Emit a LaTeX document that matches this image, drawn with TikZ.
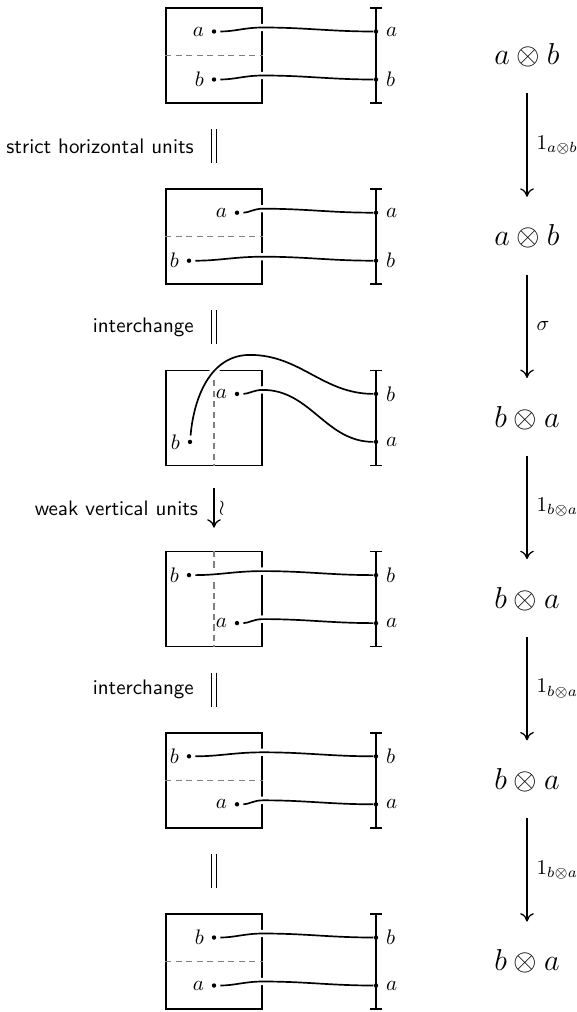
\documentclass[tikz,border=0pt]{standalone}
\usetikzlibrary{arrows.meta,calc}
\tikzset{blk/.style={draw, thick, minimum width=45.7pt, minimum height=45.2pt, inner sep=0pt},
  port/.style={circle, fill, inner sep=0pt, minimum size=2.1pt},
  seam/.style={gray, line width=0.7pt, dash pattern=on 3pt off 2pt},
  wire/.style={thick, shorten <=1.8pt, preaction={draw, white, line width=3.5pt}},
  rail/.style={thick, arrows={Bar[width=5.5pt]-Bar[width=5.5pt]}},
  eqv/.style={double, double distance=1.6pt, line width=0.6pt, shorten <=12pt, shorten >=12pt},
  map/.style={semithick, arrows={-To[length=4pt,width=6.5pt]}},
  obj/.style={font=\fontsize{13.5}{16}\selectfont}}

\begin{document}
\begin{tikzpicture}[x=0.476pt, y=0.476pt]
  \useasboundingbox (0,0) rectangle (577,-1012);
  \foreach \i/\sa/\sz/\ux/\lx/\ut/\lt/\rt/\rb in {1/west/east/0/0/a/b/a/b, 2/west/east/23/-25/a/b/a/b,
      3/north/south/23/-24/a/b/b/a, 4/north/south/-25/23/b/a/b/a, 5/west/east/-25/23/b/a/b/a, 6/west/east/0/0/b/a/b/a}{
    \node[blk] (bx\i) at (214,{-55.5-181.2*(\i-1)}) {};
    \draw[seam] (bx\i.\sa) -- (bx\i.\sz);
    \node[port, label=left:$\ut$] (lu\i) at ($(bx\i)+(\ux,24)$) {};
    \node[port, label=left:$\lt$] (ll\i) at ($(bx\i)+(\lx,-24)$) {};
    \node[port, label distance=1.5pt, label=right:$\rt$] (ru\i) at ($(bx\i)+(162,24)$) {};
    \node[port, label distance=1.5pt, label=right:$\rb$] (rl\i) at ($(bx\i)+(162,-24)$) {};
  }
  \foreach \i/\s/\t in {1/lu/ru, 1/ll/rl, 2/lu/ru, 2/ll/rl, 3/lu/rl, 4/lu/ru, 4/ll/rl, 5/lu/ru, 5/ll/rl, 6/lu/ru, 6/ll/rl}
    \draw[wire] (\s\i) to[out=0,in=180] ($(\s\i -| bx\i.east)+(0,4)$) to[out=0,in=180] (\t\i);
  \draw[wire] (ll3) to[out=85,in=180] ($(bx3)+(36,63)$) to[out=0,in=180] (ru3);
  \foreach \i in {1,...,6}
    \draw[rail] ($(bx\i.north)+(162,0)$) -- ($(bx\i.south)+(162,0)$);

  \draw[eqv] (bx1.south) -- (bx2.north) node[midway, left=6pt, font=\sffamily]{strict horizontal units};
  \draw[eqv] (bx2.south) -- (bx3.north) node[midway, left=6pt, font=\sffamily]{interchange};
  \draw[map, shorten <=10.5pt, shorten >=11pt] (bx3.south) -- (bx4.north)
    node[midway, left=4pt, font=\sffamily]{weak vertical units}
    node[midway, right, inner sep=2pt]{$\wr$};
  \draw[eqv] (bx4.south) -- (bx5.north) node[midway, left=6pt, font=\sffamily]{interchange};
  \draw[eqv] (bx5.south) -- (bx6.north);

  \foreach \i/\txt in {1/a\otimes b, 2/a\otimes b, 3/b\otimes a, 4/b\otimes a, 5/b\otimes a, 6/b\otimes a}
    \node[obj] (t\i) at (527,{-55.5-181.2*(\i-1)}) {$\txt$};
  \foreach \i/\j/\lab in {1/2/1_{a\otimes b}, 2/3/\sigma, 3/4/1_{b\otimes a}, 4/5/1_{b\otimes a}, 5/6/1_{b\otimes a}}
    \draw[map] ([yshift=-18pt]t\i.center) -- ([yshift=19pt]t\j.center) node[midway, right, xshift=1pt]{$\lab$};
\end{tikzpicture}
\end{document}
